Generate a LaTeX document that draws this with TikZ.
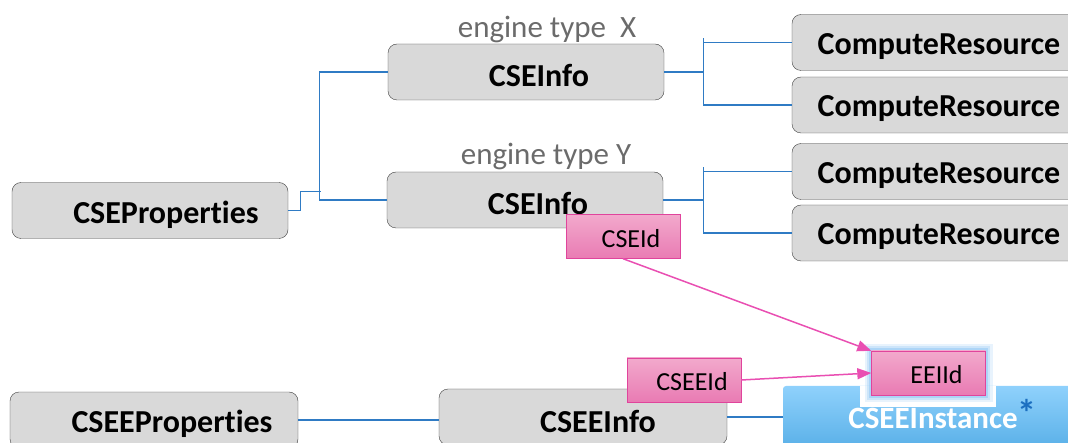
\documentclass[tikz,border=0pt]{standalone}
\usepackage{fontspec}
\setmainfont{Carlito}[Ligatures=NoCommon]
\usetikzlibrary{calc}
\usetikzlibrary{arrows.meta}
\definecolor{boxgray}{HTML}{D9D9D9}
\definecolor{boxline}{HTML}{3F3F3F}
\definecolor{linkblue}{HTML}{2F7BC4}
\definecolor{typegray}{HTML}{6B6B6B}
\definecolor{pinkline}{HTML}{E0449C}
\definecolor{pinktop}{HTML}{F2A9CC}
\definecolor{pinkbot}{HTML}{E97BB3}
\definecolor{arrowpink}{HTML}{E94FB2}
\definecolor{insttop}{HTML}{8FD1FC}
\definecolor{instbot}{HTML}{58AFE7}
\definecolor{glowblue}{HTML}{8EC5F4}
\definecolor{stardark}{HTML}{1C6FC0}
\tikzset{
 gbox/.style={draw=boxline, fill=boxgray, rounded corners=9pt, minimum width=276pt, minimum height=56pt, inner sep=0pt},
 gtext/.style={font=\fontsize{32}{34}\selectfont\bfseries, xshift=13pt, yshift=-4pt, inner sep=0pt},
 idbox/.style={draw=pinkline, top color=pinktop, bottom color=pinkbot, minimum width=114pt, minimum height=44pt, inner sep=0pt},
 idtext/.style={font=\fontsize{26}{28}\selectfont, xshift=8pt, yshift=-2pt, inner sep=0pt},
 glow/.style={preaction={draw=glowblue, line width=14pt, opacity=.2, rounded corners=5pt},
              preaction={draw=glowblue, line width=9pt, opacity=.3, rounded corners=4pt},
              preaction={draw=glowblue, line width=5pt, opacity=.5, rounded corners=2pt}},
 inst/.style={top color=insttop, bottom color=instbot, rounded corners=3pt, minimum width=300pt, minimum height=64pt, inner sep=0pt, text=white, font=\fontsize{31}{33}\selectfont\bfseries},
 link/.style={linkblue, line width=1.2pt},
 idarrow/.style={arrowpink, line width=1.5pt, -{Triangle[length=14pt,width=11pt]}},
 etype/.style={typegray, font=\fontsize{31}{33}\selectfont, inner sep=0pt}
}
\begin{document}
\begin{tikzpicture}[x=1pt, y=-1pt]
\useasboundingbox (0,0) rectangle (1068,443);
\clip (0,0) rectangle (1068,443);
\node[gbox, label={[gtext, xshift=3pt]center:CSEProperties}] (props) at (150,210.5) {};
\node[gbox, label={[gtext]center:CSEInfo}] (infoX) at (526,72) {};
\node[gbox, label={[gtext]center:CSEInfo}] (infoY) at (525,200) {};
\node[etype] (typeX) at (547,30) {engine type~~X};
\node[etype] (typeY) at (546,157) {engine type Y};
\foreach \i/\y in {1/42.5, 2/105, 3/171.5, 4/233} {
 \node[gbox, minimum width=300pt, label={[gtext, xshift=-16pt]center:ComputeResource}] (cr\i) at (942,\y) {};
}
\draw[link] (props.east) -- ++(12,0) |- ++(21,-19);
\draw[link] (infoX.west) -- ++(-68,0) |- (infoY.west);
\draw[link] (infoX.east) -- ++(40,0);
\draw[link] (infoY.east) -- ++(40,0);
\foreach \a/\b in {1/2, 3/4} {
 \draw[link] ($(cr\a.west)+(-88,-4)$) |- (cr\b.west);
 \draw[link] ($(cr\a.west)+(-88,0)$) -- (cr\a.west);
}
\node[gbox, minimum width=288pt, label={[gtext, xshift=5pt]center:CSEEProperties}] (ceeProps) at (154,420) {};
\node[gbox, minimum width=288pt, label={[gtext, xshift=2pt]center:CSEEInfo}] (ceeInfo) at (583,417) {};
\node[inst] (inst) at (933,418) {CSEEInstance};
\node[text=stardark, font=\fontsize{38}{38}\selectfont\bfseries, inner sep=0pt] (star) at (1027,413) {*};
\draw[link] (ceeProps.east) -- (ceeProps.east -| ceeInfo.west);
\draw[link] (ceeInfo.east) -- (ceeInfo.east -| inst.west);
\fill[white] (860,386) rectangle (996,407);
\node[idbox, label={[idtext]center:CSEId}] (cseid) at (623,236.5) {};
\node[idbox, label={[idtext]center:CSEEId}] (cseeid) at (684,380) {};
\node[idbox, glow, label={[idtext]center:EEIId}] (eeiid) at (928.5,373) {};
\draw[idarrow] (cseid.south) -- (eeiid.north west);
\draw[idarrow] (cseeid.east) -- (eeiid.west);
\end{tikzpicture}
\end{document}
